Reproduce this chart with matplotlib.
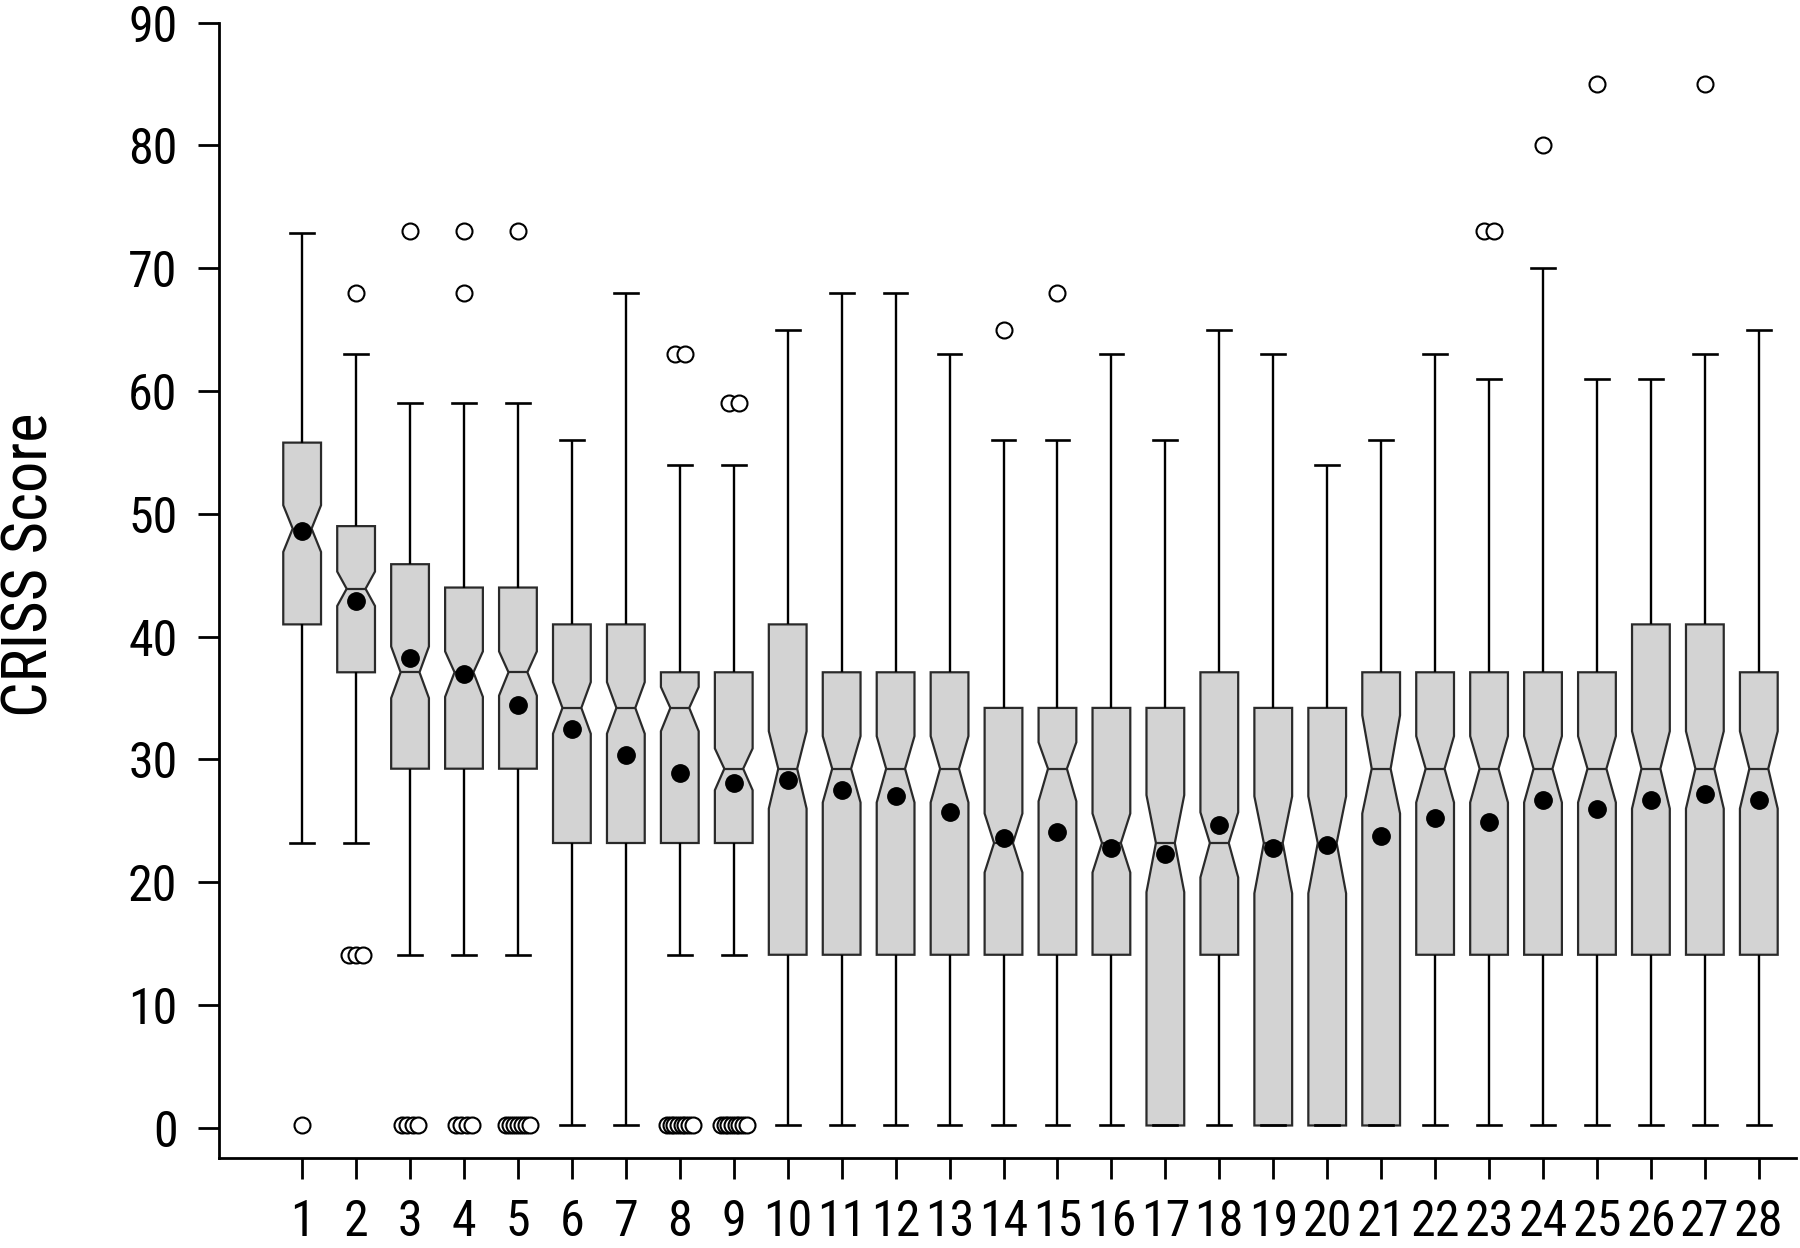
import numpy as np
import matplotlib
matplotlib.use("Agg")
import matplotlib.pyplot as plt
from matplotlib import font_manager as fm

# ---- data ----
groups = [str(i) for i in range(1, 29)]
q1 = [41.0, 37.1, 29.25, 29.25, 29.25, 23.2, 23.2, 23.2, 23.2, 14.1,
      14.1, 14.1, 14.1, 14.1, 14.1, 14.1, 0.2, 14.1, 0.2, 0.2,
      0.2, 14.1, 14.1, 14.1, 14.1, 14.1, 14.1, 14.1]
med = [48.8, 43.9, 37.1, 37.1, 37.1, 34.2, 34.2, 34.2, 29.25, 29.25,
       29.25, 29.25, 29.25, 23.2, 29.25, 23.2, 23.2, 23.2, 23.2, 23.2,
       29.25, 29.25, 29.25, 29.25, 29.25, 29.25, 29.25, 29.25]
q3 = [55.8, 49.0, 45.9, 44.0, 44.0, 41.0, 41.0, 37.1, 37.1, 41.0,
      37.1, 37.1, 37.1, 34.2, 34.2, 34.2, 34.2, 37.1, 34.2, 34.2,
      37.1, 37.1, 37.1, 37.1, 37.1, 41.0, 41.0, 37.1]
cilo = [46.9, 42.5, 35.0, 35.1, 35.2, 32.1, 32.1, 32.3, 27.5, 26.0,
        26.5, 26.5, 26.5, 20.8, 26.6, 20.8, 19.2, 20.4, 19.1, 19.1,
        25.6, 26.5, 26.5, 26.5, 26.5, 26.0, 26.0, 26.0]
cihi = [50.7, 45.3, 39.2, 38.8, 38.8, 36.3, 36.3, 35.9, 30.9, 32.3,
        31.9, 31.9, 31.9, 25.6, 31.4, 25.6, 27.1, 25.7, 27.0, 27.0,
        33.6, 31.9, 31.9, 31.9, 31.9, 32.3, 32.3, 32.3]
whislo = [23.2, 23.2, 14.1, 14.1, 14.1, 0.2, 0.2, 14.1, 14.1, 0.2,
          0.2, 0.2, 0.2, 0.2, 0.2, 0.2, 0.2, 0.2, 0.2, 0.2,
          0.2, 0.2, 0.2, 0.2, 0.2, 0.2, 0.2, 0.2]
whishi = [72.9, 63.0, 59.0, 59.0, 59.0, 56.0, 68.0, 54.0, 54.0, 65.0,
          68.0, 68.0, 63.0, 56.0, 56.0, 63.0, 56.0, 65.0, 63.0, 54.0,
          56.0, 63.0, 61.0, 70.0, 61.0, 61.0, 63.0, 65.0]
means = [48.6, 42.9, 38.3, 37.0, 34.4, 32.5, 30.4, 28.9, 28.1, 28.3,
         27.5, 27.0, 25.7, 23.6, 24.1, 22.8, 22.3, 24.7, 22.8, 23.0,
         23.8, 25.2, 24.9, 26.7, 26.0, 26.7, 27.2, 26.7]
outliers = [
    [0.2],
    [68.0, 14.1, 14.1, 14.1],
    [73.0] + [0.2] * 4,
    [73.0, 68.0] + [0.2] * 4,
    [73.0] + [0.2] * 7,
    [], [],
    [63.0, 63.0] + [0.2] * 8,
    [59.0, 59.0] + [0.2] * 8,
    [], [], [], [],
    [65.0],
    [68.0],
    [], [], [], [], [], [], [],
    [73.0, 73.0],
    [80.0],
    [85.0],
    [],
    [85.0],
    [],
]
yticks = [0, 10, 20, 30, 40, 50, 60, 70, 80, 90]

# ---- fonts ----
available = {f.name for f in fm.fontManager.ttflist}
narrow = next((n for n in ["Roboto Condensed", "Archivo Narrow", "PT Sans Narrow",
                           "IBM Plex Sans Condensed", "Liberation Sans"]
               if n in available), "DejaVu Sans")
plt.rcParams["font.family"] = [narrow, "DejaVu Sans"]

# ---- figure ----
fig = plt.figure(figsize=(18, 12.48), dpi=100)
ax = fig.add_axes([0.1217, 0.0721, 0.9978 - 0.1217, 0.9819 - 0.0721])

positions = np.arange(1, len(groups) + 1)
stats = []
for i in range(len(groups)):
    stats.append(dict(q1=q1[i], med=med[i], q3=q3[i], cilo=cilo[i], cihi=cihi[i],
                      whislo=whislo[i], whishi=whishi[i], mean=means[i],
                      fliers=np.array([]), label=groups[i]))

ax.bxp(stats, positions=positions, widths=0.7, capwidths=0.44,
       shownotches=True, showfliers=False, showmeans=False, patch_artist=True,
       boxprops=dict(facecolor="#d3d3d3", edgecolor="#2a2a2a", linewidth=1.6),
       whiskerprops=dict(color="black", linewidth=1.7, solid_capstyle="butt"),
       capprops=dict(color="black", linewidth=1.9),
       medianprops=dict(color="#2a2a2a", linewidth=1.6))

# outliers: duplicates are spread slightly side by side
for pos, vals in zip(positions, outliers):
    uniq = []
    for v in vals:
        if v not in uniq:
            uniq.append(v)
    for v in uniq:
        n = vals.count(v)
        half = 0.09 * np.sqrt(n - 1)
        offs = np.linspace(-half, half, n) if n > 1 else np.array([0.0])
        for o in offs:
            ax.plot(pos + o, v, marker="o", markersize=11.5, markerfacecolor="white",
                    markeredgecolor="black", markeredgewidth=1.5, linestyle="none", zorder=4)

ax.plot(positions, means, marker="o", markersize=12.5, color="black",
        linestyle="none", zorder=5)

ax.set_xlim(-0.54, 28.69)
ax.set_ylim(-2.45, 90)
ax.set_yticks(yticks)
ax.set_xticks(positions)
ax.set_xticklabels(groups)
for s in ["top", "right"]:
    ax.spines[s].set_visible(False)
for s in ["left", "bottom"]:
    ax.spines[s].set_linewidth(2.0)
ax.tick_params(axis="both", direction="out", length=15, width=2.0,
               labelsize=36, pad=15)
ax.tick_params(axis="x", pad=14)

fig.text(0.0172, 1 - 565 / 1248, "CRISS Score", rotation=90, ha="center", va="center",
         fontsize=45, family=[narrow, "DejaVu Sans"])

fig.savefig("out.png", dpi=100)
